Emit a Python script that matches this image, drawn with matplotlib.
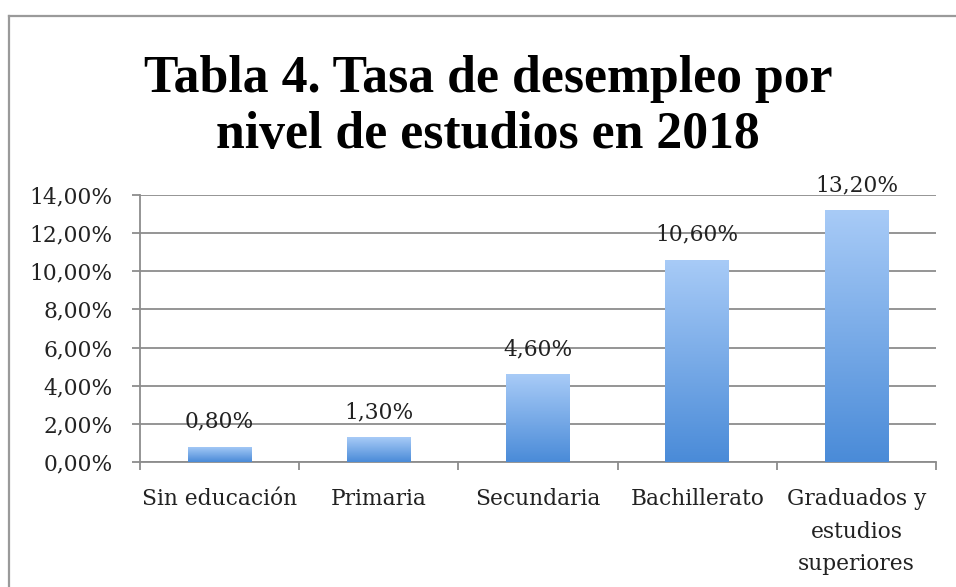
import numpy as np
import matplotlib
matplotlib.use("Agg")
import matplotlib.pyplot as plt
from matplotlib.lines import Line2D
from matplotlib.colors import LinearSegmentedColormap
from matplotlib.transforms import ScaledTranslation

categories = ["Sin educación", "Primaria", "Secundaria", "Bachillerato",
              "Graduados y\nestudios\nsuperiores"]
values = [0.80, 1.30, 4.60, 10.60, 13.20]
title_lines = ["Tabla 4. Tasa de desempleo por", "nivel de estudios en 2018"]
yticks = [0, 2, 4, 6, 8, 10, 12, 14]

plt.rcParams['font.family'] = ['DejaVu Serif']

W, H = 956, 587
fig = plt.figure(figsize=(W / 100, H / 100), dpi=100)
fig.patch.set_facecolor("white")

# outer chart frame (only top and left visible)
fx, fy = 9 / W, 1 - 16 / H
fig.add_artist(Line2D([fx, fx], [0, fy], transform=fig.transFigure,
                      color="#9a9a9a", lw=1.6))
fig.add_artist(Line2D([fx, 1], [fy, fy], transform=fig.transFigure,
                      color="#9a9a9a", lw=1.6))

ax = fig.add_axes([140 / W, (H - 462) / H, 796 / W, 267 / H])

x = np.arange(len(categories))
bars = ax.bar(x, values, width=0.4, color="none", edgecolor="none", zorder=3)

cmap = LinearSegmentedColormap.from_list("g", ["#4a8bd8", "#a8cbf7"])
grad = np.linspace(0, 1, 256).reshape(-1, 1)
for b in bars:
    x0, y0 = b.get_x(), b.get_y()
    w, h = b.get_width(), b.get_height()
    im = ax.imshow(grad, cmap=cmap, origin="lower", aspect="auto",
                   extent=[x0, x0 + w, y0, y0 + h], zorder=3)
    im.set_clip_path(b)

FS = 15.7
for xi, v in zip(x, values):
    ax.annotate(f"{v:.2f}%".replace(".", ","), (xi, v), xytext=(0, 18),
                textcoords="offset points", ha="center", va="center",
                fontsize=FS, color="#222222", zorder=4)

ax.set_xlim(-0.5, len(categories) - 0.5)
ax.set_ylim(0, 14)
ax.set_yticks(yticks)
ax.set_yticklabels([f"{t:.2f}%".replace(".", ",") for t in yticks],
                   fontsize=FS, color="#222222")
shift = ScaledTranslation(0, -7 / 100, fig.dpi_scale_trans)
for lbl in ax.get_yticklabels():
    lbl.set_transform(lbl.get_transform() + shift)
ax.yaxis.grid(True, color="#8c8c8c", lw=1.3, zorder=0)
ax.set_axisbelow(True)

ax.set_xticks(x)
ax.set_xticklabels(categories, fontsize=FS, color="#222222", linespacing=1.6,
                   va="top")
ax.set_xticks(np.arange(-0.5, len(categories)), minor=True)
ax.tick_params(axis="x", which="major", length=0, pad=19)
ax.tick_params(axis="x", which="minor", length=6, width=1.3, color="#8c8c8c",
               direction="out")
ax.tick_params(axis="y", length=5.5, width=1.3, color="#8c8c8c", pad=14)

for s in ["top", "right"]:
    ax.spines[s].set_visible(False)
for s in ["left", "bottom"]:
    ax.spines[s].set_color("#8c8c8c")
    ax.spines[s].set_linewidth(1.3)

for line, base in zip(title_lines, [92, 148]):
    fig.text(488 / W, 1 - base / H, line, ha="center", va="baseline",
             fontsize=37.3, fontweight="bold", color="black",
             family=["Liberation Serif", "DejaVu Serif"])

fig.savefig("out.png", dpi=100, facecolor="white")
